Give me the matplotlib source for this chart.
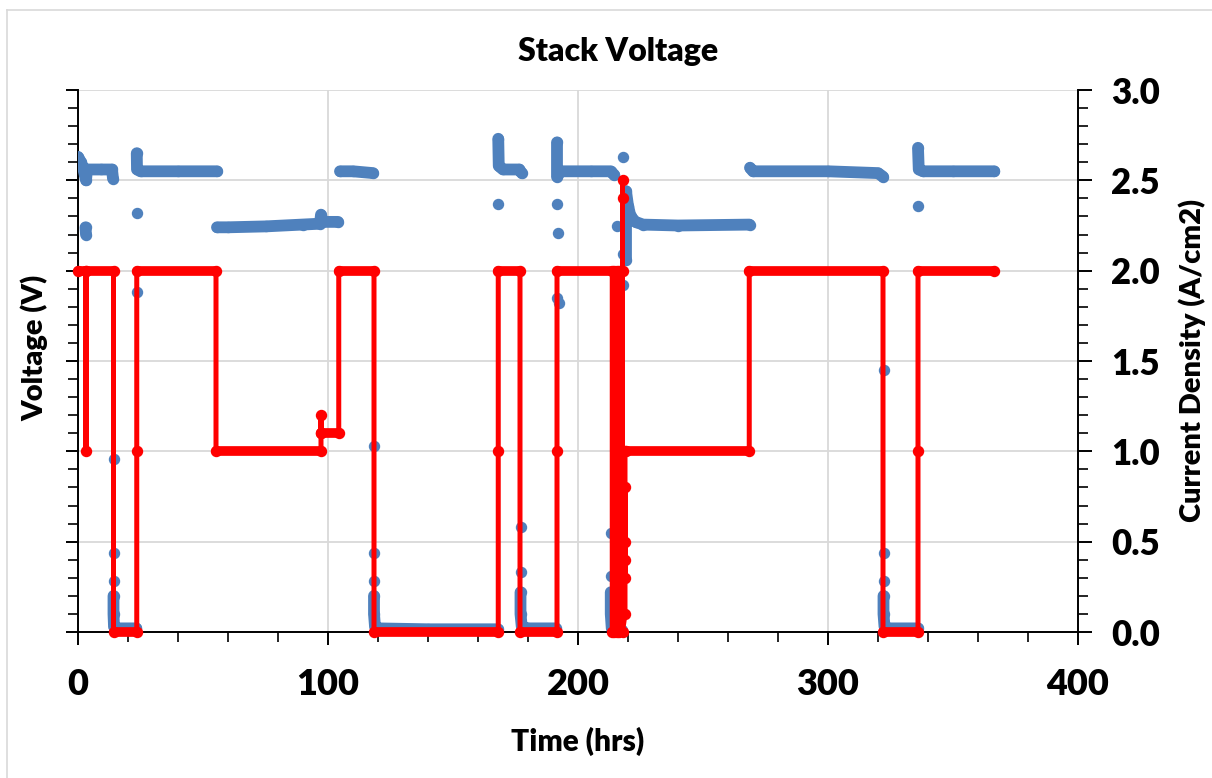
import numpy as np
import matplotlib
matplotlib.use("Agg")
import matplotlib.pyplot as plt
from matplotlib.lines import Line2D

nan = np.nan

# ---- Voltage (V) vs time (hrs); NaN separates unconnected groups ----
volt_time = [
    0, 1.2, 2.2, 3.2, 3.6, 9, 13.6, 14.0, nan,
    3.0, 3.2, nan,
    14.2, nan, 14.2, nan, 14.2, nan,
    14.2, 14.2, 14.4, 15.5, 23.3, nan,
    23.5, nan, 23.5, nan,
    23.5, 23.6, 25, 40, 55.6, nan,
    55.6, 60, 75, 90, 96.8, 97.2, 97.6, 104, nan,
    104.8, 110, 118, nan,
    118.4, nan, 118.4, nan, 118.4, nan,
    118.4, 118.4, 118.8, 120, 140, 168, nan,
    168.1, nan,
    168.1, 168.3, 170, 176.5, 177.5, nan,
    177.0, nan, 177.0, nan,
    177.0, 177.0, 177.5, 180, 191, nan,
    191.6, nan, 192.5, nan, 192.0, nan, 191.6, nan,
    191.6, 191.6, 193, 205, 213, 214.5, nan,
    213.1, nan, 213.1, nan,
    213.1, 213.1, 213.5, 217.5, nan,
    215.6, nan, 217.8, nan, 218.0, nan, 217.9, nan,
    219.2, 219.2, 220, 221, 223, 226, 240, 268.6, nan,
    268.8, 270, 300, 320, 322, nan,
    322.2, nan, 322.2, nan, 322.2, nan,
    322.2, 322.2, 322.6, 324, 336, nan,
    336.0, nan,
    336.0, 336.3, 338, 350, 366.5,
]
volt_vals = [
    2.63, 2.60, 2.56, 2.50, 2.56, 2.56, 2.56, 2.51, nan,
    2.24, 2.20, nan,
    0.96, nan, 0.44, nan, 0.28, nan,
    0.20, 0.10, 0.03, 0.02, 0.02, nan,
    1.88, nan, 2.32, nan,
    2.65, 2.56, 2.55, 2.55, 2.55, nan,
    2.24, 2.24, 2.245, 2.255, 2.26, 2.31, 2.27, 2.27, nan,
    2.55, 2.55, 2.54, nan,
    1.03, nan, 0.44, nan, 0.28, nan,
    0.20, 0.10, 0.03, 0.02, 0.015, 0.015, nan,
    2.37, nan,
    2.73, 2.58, 2.56, 2.56, 2.54, nan,
    0.58, nan, 0.33, nan,
    0.22, 0.10, 0.03, 0.02, 0.02, nan,
    1.85, nan, 1.82, nan, 2.21, nan, 2.37, nan,
    2.71, 2.52, 2.55, 2.55, 2.55, 2.53, nan,
    0.55, nan, 0.31, nan,
    0.22, 0.10, 0.02, 0.01, nan,
    2.25, nan, 2.09, nan, 1.92, nan, 2.63, nan,
    2.06, 2.44, 2.36, 2.30, 2.27, 2.255, 2.25, 2.255, nan,
    2.57, 2.55, 2.55, 2.54, 2.52, nan,
    1.45, nan, 0.44, nan, 0.28, nan,
    0.20, 0.10, 0.03, 0.02, 0.02, nan,
    2.36, nan,
    2.68, 2.56, 2.55, 2.55, 2.55,
]

# ---- Current density (A/cm2) vs time (hrs) ----
cur_time = [
    0, 3.2, 3.2, 3.2, 14.2, 14.2, 23.5, 23.5, 23.5, 55.2, 55.2, 97.2, 97.2,
    97.2, 97.2, 104.3, 104.3, 118.4, 118.4, 168.1, 168.1, 168.1, 176.8, 176.8,
    191.6, 191.6, 191.6, 213.7, 213.7, 214.5, 214.5, 215.5, 215.5,
    216.5, 216.5, 217.8, 217.8, 217.8, 217.8, 218.8, 218.8, 218.8, 218.8,
    218.8, 218.8, 219.2, 268.5, 268.5, 322.0, 322.0, 336.0, 336.0, 336.0, 366.5,
]
cur_vals = [
    2.0, 2.0, 1.0, 2.0, 2.0, 0.0, 0.0, 1.0, 2.0, 2.0, 1.0, 1.0, 1.1,
    1.2, 1.1, 1.1, 2.0, 2.0, 0.0, 0.0, 1.0, 2.0, 2.0, 0.0,
    0.0, 1.0, 2.0, 2.0, 0.0, 0.0, 2.0, 2.0, 0.0,
    0.0, 2.0, 2.0, 2.5, 2.4, 0.0, 0.1, 0.8, 0.3, 0.5,
    0.4, 1.0, 1.0, 1.0, 2.0, 2.0, 0.0, 0.0, 1.0, 2.0, 2.0,
]

x_ticks = [0, 100, 200, 300, 400]
y_ticks = [0.0, 0.5, 1.0, 1.5, 2.0, 2.5, 3.0]

BLUE = "#4F81BD"
RED = "#FF0000"
FONT = "Lato"
WEIGHT = "heavy"

W, H = 1212, 778
fig = plt.figure(figsize=(W / 100, H / 100), dpi=100)
L, R, T, B = 78, 1078, 90, 632
ax = fig.add_axes([L / W, 1 - B / H, (R - L) / W, (B - T) / H])
ax2 = ax.twinx()

# frame lines of the chart area
fig.add_artist(Line2D([7 / W, 7 / W], [0, 1 - 10 / H], transform=fig.transFigure,
                      color="#D9D9D9", lw=1.2))
fig.add_artist(Line2D([7 / W, 1], [1 - 10 / H, 1 - 10 / H], transform=fig.transFigure,
                      color="#D9D9D9", lw=1.2))

for a in (ax, ax2):
    a.set_xlim(0, 400)
    a.set_ylim(0, 3.0)
    a.spines["top"].set_visible(False)

ax.set_axisbelow(True)
ax.set_xticks(x_ticks)
ax.set_xticks(np.arange(0, 401, 20), minor=True)
ax.set_yticks(y_ticks)
ax.set_yticks(np.arange(0, 3.01, 0.1), minor=True)
ax.set_yticklabels([])
ax.grid(True, which="major", color="#D9D9D9", lw=1.3)
ax.spines["right"].set_visible(False)
for s in ("left", "bottom"):
    ax.spines[s].set_linewidth(1.4)
ax.tick_params(axis="both", which="major", direction="out", length=9, width=1.4, color="black")
ax.tick_params(axis="both", which="minor", direction="out", length=7, width=1.2, color="black")
ax.tick_params(axis="x", which="major", length=9, labelsize=26, pad=17)
ax.set_xticklabels([str(v) for v in x_ticks], fontfamily=FONT, fontweight=WEIGHT)

ax2.set_yticks(y_ticks)
ax2.set_yticks(np.arange(0, 3.01, 0.1), minor=True)
ax2.set_yticklabels([f"{v:.1f}" for v in y_ticks], fontfamily=FONT, fontweight=WEIGHT)
ax2.spines["right"].set_linewidth(1.4)
ax2.spines["left"].set_visible(False)
ax2.spines["bottom"].set_visible(False)
ax2.tick_params(axis="y", which="major", direction="out", length=10, width=1.4,
                labelsize=25, pad=14)
ax2.tick_params(axis="y", which="minor", direction="out", length=7, width=1.2)

# voltage series
ax.plot(volt_time, volt_vals, "-", color=BLUE, lw=8.5, solid_capstyle="round",
        solid_joinstyle="round", marker="o", ms=7.2, mfc=BLUE, mec=BLUE, zorder=3)

# current density series: thin trace + dense-looking plateaus
ax2.plot(cur_time, cur_vals, "-", color=RED, lw=3.6, marker="o", ms=7.2,
         mfc=RED, mec=RED, clip_on=False, zorder=4)
for i in range(len(cur_time) - 1):
    if cur_vals[i] == cur_vals[i + 1] and cur_time[i + 1] > cur_time[i]:
        ax2.plot(cur_time[i:i + 2], cur_vals[i:i + 2], "-", color=RED, lw=7.0,
                 solid_capstyle="round", clip_on=False, zorder=4)

fig.text(618 / W, 1 - 52 / H, "Stack Voltage", fontfamily=FONT, fontweight=WEIGHT,
         fontsize=23, ha="center", va="center")
fig.text(578 / W, 1 - 741 / H, "Time (hrs)", fontfamily=FONT, fontweight=WEIGHT,
         fontsize=21.5, ha="center", va="center")
fig.text(35 / W, 1 - 348 / H, "Voltage (V)", fontfamily=FONT, fontweight=WEIGHT,
         fontsize=21, ha="center", va="center", rotation=90)
fig.text(1192 / W, 1 - 360 / H, "Current Density (A/cm2)", fontfamily=FONT,
         fontweight=WEIGHT, fontsize=21, ha="center", va="center", rotation=90)

fig.savefig("out.png", dpi=100)
